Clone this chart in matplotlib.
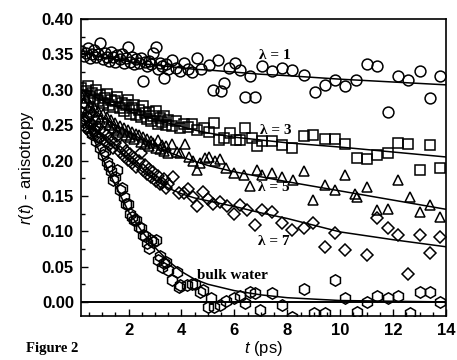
import matplotlib
matplotlib.use("Agg")
import matplotlib.pyplot as plt
from matplotlib.ticker import MultipleLocator

plt.rcParams['font.family'] = ['Liberation Sans', 'DejaVu Sans']
plt.rcParams['mathtext.fontset'] = 'custom'
plt.rcParams['mathtext.it'] = 'Liberation Sans:italic'
plt.rcParams['mathtext.rm'] = 'Liberation Sans'

# shared early sampling times (ps)
t_early = [0.22, 0.30, 0.38, 0.46, 0.54, 0.62, 0.70, 0.78, 0.86, 0.94, 1.02, 1.10, 1.18, 1.26,
           1.34, 1.42, 1.50, 1.58, 1.66, 1.74, 1.82, 1.90, 1.98, 2.06, 2.14, 2.22, 2.30, 2.38,
           2.46, 2.54, 2.62, 2.70, 2.78, 2.86, 2.94, 3.02, 3.10, 3.18, 3.26, 3.34, 3.42, 3.50]

# lambda = 1 (circles)
lam1_early = [0.355, 0.348, 0.352, 0.359, 0.345, 0.350, 0.356, 0.347, 0.351, 0.366, 0.344, 0.352,
              0.347, 0.341, 0.353, 0.346, 0.339, 0.349, 0.343, 0.351, 0.338, 0.345, 0.361, 0.340,
              0.347, 0.336, 0.343, 0.338, 0.345, 0.312, 0.340, 0.333, 0.341, 0.336, 0.352, 0.361,
              0.330, 0.338, 0.333, 0.316, 0.336, 0.329]
lam1_t = [3.65, 3.80, 3.95, 4.10, 4.25, 4.40, 4.59, 4.75, 5.03, 5.20, 5.40, 5.50, 5.62, 5.79, 6.04,
          6.23, 6.42, 6.60, 6.79, 7.04, 7.42, 7.80, 8.18, 8.62, 9.06, 9.43, 9.81, 10.19, 10.60,
          11.01, 11.38, 11.82, 12.20, 12.58, 13.02, 13.40, 13.77]
lam1_r = [0.342, 0.331, 0.327, 0.338, 0.330, 0.325, 0.345, 0.330, 0.335, 0.300, 0.342, 0.298, 0.309,
          0.331, 0.338, 0.328, 0.290, 0.319, 0.290, 0.333, 0.326, 0.331, 0.328, 0.321, 0.297, 0.307,
          0.314, 0.305, 0.314, 0.337, 0.333, 0.269, 0.319, 0.314, 0.326, 0.288, 0.320]

# lambda = 3 (squares)
lam3_early = [0.303, 0.293, 0.298, 0.306, 0.290, 0.296, 0.287, 0.300, 0.284, 0.292, 0.281, 0.289,
              0.294, 0.279, 0.286, 0.276, 0.284, 0.290, 0.274, 0.281, 0.270, 0.278, 0.285, 0.266,
              0.274, 0.279, 0.264, 0.271, 0.262, 0.277, 0.267, 0.259, 0.268, 0.256, 0.263, 0.270,
              0.252, 0.260, 0.255, 0.263, 0.250, 0.257]
lam3_t = [3.65, 3.80, 3.95, 4.10, 4.25, 4.40, 4.60, 4.84, 5.03, 5.22, 5.41, 5.60, 5.85, 6.05, 6.23,
          6.42, 6.67, 6.86, 7.04, 7.42, 7.80, 8.18, 8.62, 8.99, 9.43, 9.81, 10.19, 10.63, 11.01,
          11.38, 11.82, 12.20, 12.58, 13.02, 13.40, 13.77]
lam3_r = [0.249, 0.256, 0.246, 0.252, 0.247, 0.251, 0.243, 0.246, 0.241, 0.253, 0.229, 0.232, 0.239,
          0.229, 0.229, 0.246, 0.232, 0.220, 0.227, 0.227, 0.222, 0.217, 0.234, 0.236, 0.231, 0.231,
          0.224, 0.203, 0.202, 0.208, 0.210, 0.225, 0.224, 0.187, 0.222, 0.189]

# lambda = 5 (triangles)
lam5_early = [0.292, 0.281, 0.288, 0.274, 0.279, 0.268, 0.275, 0.262, 0.270, 0.258, 0.266, 0.255,
              0.261, 0.250, 0.257, 0.246, 0.253, 0.243, 0.249, 0.240, 0.246, 0.236, 0.243, 0.233,
              0.240, 0.230, 0.237, 0.236, 0.226, 0.233, 0.223, 0.230, 0.221, 0.228, 0.225, 0.218,
              0.229, 0.216, 0.222, 0.213, 0.220, 0.211]
lam5_t = [3.64, 3.82, 3.96, 4.14, 4.30, 4.45, 4.58, 4.72, 4.89, 5.05, 5.25, 5.47, 5.70, 5.97, 6.35,
          6.60, 6.86, 7.04, 7.42, 7.80, 8.20, 8.62, 8.99, 9.43, 9.81, 10.19, 10.55, 10.62, 11.00,
          11.38, 11.82, 12.20, 12.64, 13.02, 13.40, 13.77]
lam5_r = [0.224, 0.212, 0.210, 0.224, 0.205, 0.200, 0.187, 0.196, 0.203, 0.205, 0.199, 0.202, 0.190,
          0.182, 0.179, 0.164, 0.187, 0.179, 0.182, 0.177, 0.173, 0.185, 0.144, 0.165, 0.158, 0.179,
          0.153, 0.149, 0.163, 0.130, 0.132, 0.172, 0.149, 0.127, 0.137, 0.120]

# lambda = 7 (diamonds)
lam7_early = [0.268, 0.259, 0.246, 0.262, 0.241, 0.252, 0.244, 0.236, 0.247, 0.232, 0.240, 0.228,
              0.236, 0.222, 0.229, 0.218, 0.225, 0.234, 0.212, 0.220, 0.206, 0.214, 0.201, 0.209,
              0.196, 0.204, 0.191, 0.199, 0.210, 0.186, 0.193, 0.181, 0.188, 0.176, 0.184, 0.171,
              0.178, 0.167, 0.168, 0.174, 0.161, 0.167]
lam7_t = [3.70, 3.89, 4.09, 4.25, 4.42, 4.58, 4.83, 5.00, 5.20, 5.47, 5.72, 5.97, 6.23, 6.48, 6.79,
          7.04, 7.42, 7.80, 8.18, 8.62, 8.99, 9.43, 9.81, 10.19, 11.01, 11.38, 11.82, 12.20, 12.58,
          13.02, 13.40, 13.77]
lam7_r = [0.177, 0.154, 0.154, 0.160, 0.148, 0.135, 0.156, 0.145, 0.138, 0.142, 0.135, 0.125, 0.137,
          0.130, 0.109, 0.130, 0.127, 0.111, 0.102, 0.104, 0.111, 0.078, 0.097, 0.073, 0.066, 0.118,
          0.104, 0.094, 0.040, 0.094, 0.069, 0.092]

# bulk water (hexagons)
bulk_early = [0.268, 0.255, 0.262, 0.247, 0.252, 0.238, 0.243, 0.228, 0.233, 0.218, 0.208, 0.214,
              0.198, 0.192, 0.185, 0.172, 0.176, 0.187, 0.158, 0.161, 0.148, 0.139, 0.139, 0.125,
              0.120, 0.116, 0.116, 0.106, 0.104, 0.095, 0.093, 0.083, 0.076, 0.087, 0.085, 0.087,
              0.059, 0.065, 0.050, 0.055, 0.057, 0.045]
bulk_t = [3.64, 3.82, 3.89, 3.96, 4.20, 4.40, 4.52, 4.72, 4.83, 5.00, 5.10, 5.22, 5.45, 5.70, 5.97,
          6.23, 6.42, 6.60, 6.79, 6.98, 7.42, 7.80, 8.18, 8.62, 9.00, 9.43, 9.81, 10.19, 10.63,
          11.00, 11.38, 11.82, 12.20, 12.64, 13.02, 13.40, 13.77]
bulk_r = [0.031, 0.043, 0.021, 0.024, 0.024, 0.026, 0.026, 0.014, 0.017, -0.007, 0.005, -0.007,
          -0.005, 0.002, 0.005, 0.008, -0.002, 0.014, 0.012, -0.012, 0.012, -0.005, -0.021, 0.019,
          -0.015, -0.015, 0.031, 0.005, -0.014, 0.000, 0.009, 0.005, 0.009, -0.016, 0.014, 0.014,
          0.000]

# fitted curves
fit_t = [0.2, 0.5, 1.0, 1.5, 2.0, 2.5, 3.0, 3.5, 4.0, 4.5, 5.0, 6.0, 7.0, 8.0, 10.0, 12.0, 14.0]
fit1 = [0.352, 0.350, 0.346, 0.343, 0.340, 0.337, 0.335, 0.333, 0.331, 0.329, 0.328, 0.325, 0.322,
        0.320, 0.315, 0.311, 0.307]
fit3 = [0.300, 0.294, 0.285, 0.277, 0.270, 0.264, 0.258, 0.253, 0.248, 0.243, 0.239, 0.233, 0.229,
        0.225, 0.219, 0.212, 0.205]
fit5 = [0.290, 0.278, 0.262, 0.250, 0.240, 0.230, 0.221, 0.212, 0.205, 0.199, 0.193, 0.184, 0.177,
        0.170, 0.157, 0.144, 0.131]
fit7 = [0.270, 0.256, 0.235, 0.217, 0.200, 0.185, 0.172, 0.161, 0.153, 0.147, 0.143, 0.135, 0.126,
        0.118, 0.099, 0.088, 0.078]
fitb = [0.265, 0.245, 0.205, 0.165, 0.128, 0.100, 0.077, 0.058, 0.043, 0.032, 0.025, 0.016, 0.010,
        0.006, 0.002, 0.001, 0.000]

fig = plt.figure(figsize=(4.57, 3.6), dpi=100)
ax = fig.add_axes([0.177, 0.122, 0.799, 0.825])

mk = dict(linestyle='none', markerfacecolor='none', markeredgecolor='black', markeredgewidth=1.1)
ax.plot(t_early + lam1_t, lam1_early + lam1_r, marker='o', markersize=7.8, **mk)
ax.plot(t_early + lam3_t, lam3_early + lam3_r, marker='s', markersize=6.8, **mk)
ax.plot(t_early + lam5_t, lam5_early + lam5_r, marker='^', markersize=7.8, **mk)
ax.plot(t_early + lam7_t, lam7_early + lam7_r, marker='D', markersize=6.2, **mk)
ax.plot(t_early + bulk_t, bulk_early + bulk_r, marker='h', markersize=8.2, **mk)

for f in [fit1, fit3, fit5, fit7, fitb]:
    ax.plot(fit_t, f, color='black', linewidth=1.1)
ax.axhline(0.0, color='black', linewidth=1.4)

ax.set_xlim(0.2, 14)
ax.set_ylim(-0.02, 0.40)
ax.set_xticks([2, 4, 6, 8, 10, 12, 14])
ax.set_yticks([0.00, 0.05, 0.10, 0.15, 0.20, 0.25, 0.30, 0.35, 0.40])
ax.set_yticklabels(['0.00', '0.05', '0.10', '0.15', '0.20', '0.25', '0.30', '0.35', '0.40'])
ax.xaxis.set_minor_locator(MultipleLocator(0.5))
ax.yaxis.set_minor_locator(MultipleLocator(0.025))
ax.tick_params(which='both', direction='in', top=False, right=False, width=1.0)
ax.tick_params(which='major', length=5, labelsize=12, pad=5)
ax.tick_params(which='minor', length=3)
for lab in ax.get_xticklabels() + ax.get_yticklabels():
    lab.set_fontweight('bold')
for s in ax.spines.values():
    s.set_linewidth(1.2)

ax.set_ylabel(r'$\it{r}$($\it{t}$) - anisotropy', fontsize=12, labelpad=4)
ax.set_xlabel(r'$\it{t}$ (ps)', fontsize=12, labelpad=1)

serif = ['Liberation Serif', 'DejaVu Serif']
ann = dict(family=serif, fontweight='bold', fontsize=11, ha='center', va='center')
ax.text(7.55, 0.349, 'λ = 1', **ann)
ax.text(7.55, 0.243, 'λ = 3', **ann)
ax.text(7.5, 0.162, 'λ = 5', **ann)
ax.text(7.5, 0.086, 'λ = 7', **ann)
ax.text(5.93, 0.038, 'bulk water', **ann)
fig.text(0.057, 0.022, 'Figure 2', family=serif, fontweight='bold', fontsize=10.5)

fig.savefig('out.png', dpi=100)
